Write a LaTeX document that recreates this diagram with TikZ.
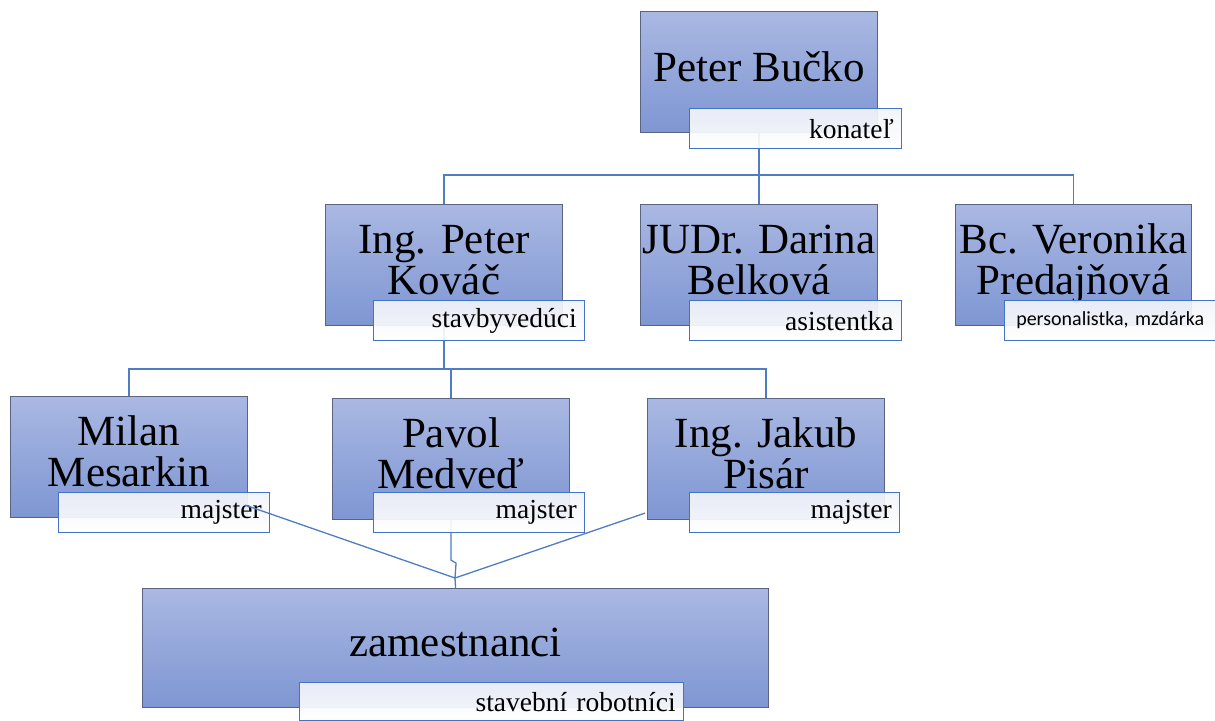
\documentclass[tikz,border=0pt]{standalone}
\usepackage{fontspec}
\setmainfont{Liberation Serif}
\newfontfamily\calib{Carlito}
\usetikzlibrary{calc}
\pgfdeclarelayer{bg}
\pgfsetlayers{bg,main}
\definecolor{boxtop}{RGB}{170,184,226}
\definecolor{boxbot}{RGB}{126,150,211}
\definecolor{boxline}{RGB}{90,100,128}
\definecolor{subline}{RGB}{68,114,196}
\definecolor{conn}{RGB}{79,124,194}
\definecolor{subtop}{RGB}{240,243,249}
\newcommand{\nm}[1]{\raisebox{8pt}{\begin{tabular}{@{}c@{}}#1\end{tabular}}}
\tikzset{
  person/.style={draw=boxline, line width=1.1pt, top color=boxtop, bottom color=boxbot,
    minimum width=237pt, minimum height=121pt, inner sep=0pt, anchor=north west,
    font=\fontsize{43}{37}\selectfont},
  role/.style={draw=subline, line width=1.3pt, top color=subtop, bottom color=white,
    fill opacity=0.92, text opacity=1, minimum height=40pt, inner xsep=8pt, inner ysep=0pt,
    align=right, anchor=north west, font=\fontsize{27.5}{28}\selectfont},
  link/.style={draw=conn, line width=1.3pt},
}
\begin{document}
\begin{tikzpicture}[x=1pt,y=-1pt]
\useasboundingbox (0,0) rectangle (1215,720);
% persons
\node[person] (buc) at (640,11) {\nm{Peter Bučko}};
\node[person] (kov) at (325,204) {\nm{Ing. Peter\\Kováč}};
\node[person] (dar) at (640,204) {\nm{JUDr. Darina\\Belková}};
\node[person, minimum width=236pt] (ver) at (955,204) {\nm{Bc. Veronika\\Predajňová}};
\node[person] (mil) at (10,396) {\nm{Milan\\Mesarkin}};
\node[person] (pav) at (332,398) {\nm{Pavol\\Medveď}};
\node[person] (jak) at (647,398) {\nm{Ing. Jakub\\Pisár}};
\node[person, minimum width=626pt, minimum height=119pt] (zam) at (142,588) {\nm{zamestnanci}};
% roles
\node[role, text width=196pt] (bucr) at (689,108) {konateľ};
\node[role, text width=195pt] (kovr) at (373,300) {stavbyvedúci};
\node[role, text width=196pt] (darr) at (689,300) {asistentka};
\node[role, text width=203pt, inner xsep=4pt, align=center, font=\calib\fontsize{20}{22}\selectfont] (verr) at (1004,300) {personalistka, mzdárka};
\node[role, text width=195pt] (milr) at (58,492) {majster};
\node[role, text width=195pt] (pavr) at (373,492) {majster};
\node[role, text width=194pt] (jakr) at (689,492) {majster};
\node[role, text width=368pt, minimum height=38pt] (zamr) at (299,682) {stavební robotníci};
% connectors
\coordinate (b1) at (760,175);
\coordinate (b2) at (444,369);
\coordinate (m) at (455,578);
\begin{pgfonlayer}{bg}
\draw[link] (buc.south) -- (dar.north);
\draw[link] (kov.north) -- (kov.north |- b1) -- (ver.north |- b1) -- (ver.north);
\draw[link] (kov.south) -- (kov.south |- b2);
\draw[link] (mil.north) -- (mil.north |- b2) -- (jak.north |- b2) -- (jak.north);
\draw[link] (pav.north) -- (pav.north |- b2);
\draw[link] (pav.south) -- ++(0,40) -- ++(5,3) -- (m) -- (zam.north);
\end{pgfonlayer}
\draw[link] ($(mil.south east)+(-3,-13)$) -- (m);
\draw[link] ($(jak.south west)+(-2,-7)$) -- (m);
\end{tikzpicture}
\end{document}
